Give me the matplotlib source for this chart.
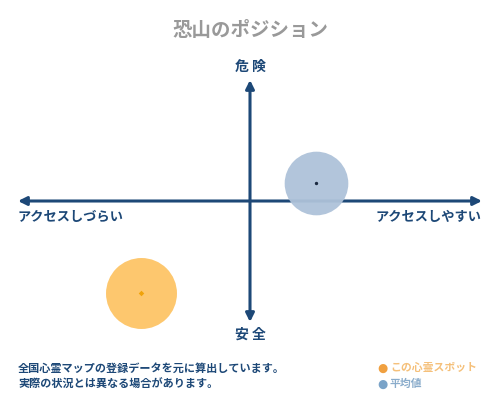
import matplotlib
matplotlib.use("Agg")
import matplotlib.pyplot as plt

plt.rcParams['font.family'] = ['Noto Sans CJK JP', 'DejaVu Sans']

title = "恐山のポジション"
y_top_label = "危 険"
y_bottom_label = "安 全"
x_left_label = "アクセスしづらい"
x_right_label = "アクセスしやすい"
notes = ["全国心霊マップの登録データを元に算出しています。", "実際の状況とは異なる場合があります。"]
legend_labels = ["この心霊スポット", "平均値"]

# positions in (-1..1) space: x = access, y = danger
spot_x = [-0.47]
spot_y = [-0.76]
avg_x = [0.285]
avg_y = [0.15]

navy = "#1d4877"
orange_fill = "#fdc76e"
orange_dot = "#f0a30a"
blue_fill = "#aec2d9"

fig = plt.figure(figsize=(5, 4), dpi=100)
ax = fig.add_axes([18/500, (400-322)/400, 464/500, 242/400])
ax.set_xlim(-1, 1)
ax.set_ylim(-1, 1)
ax.axis('off')

# axes arrows
arrow_kw = dict(arrowstyle='-|>,head_length=0.5,head_width=0.25', color=navy, lw=2.2, shrinkA=0, shrinkB=0)
ax.annotate('', xy=(1, 0), xytext=(0, 0), arrowprops=arrow_kw)
ax.annotate('', xy=(-1, 0), xytext=(0, 0), arrowprops=arrow_kw)
ax.annotate('', xy=(0, 1), xytext=(0, 0), arrowprops=arrow_kw)
ax.annotate('', xy=(0, -1), xytext=(0, 0), arrowprops=arrow_kw)

# bubbles
ax.scatter(avg_x, avg_y, s=2100, color=blue_fill, alpha=0.95, linewidths=0, zorder=3, clip_on=False)
ax.scatter(avg_x, avg_y, s=2, color="#1a2a40", zorder=4, clip_on=False)
ax.scatter(spot_x, spot_y, s=2611, color=orange_fill, linewidths=0, zorder=3, clip_on=False)
ax.scatter(spot_x, spot_y, s=8, marker='D', color=orange_dot, zorder=4, linewidths=0, clip_on=False)

# texts
fig.text(250/500, 1-30/400, title, ha='center', va='center', fontsize=14, color="#999999", fontweight='bold')
fig.text(250/500, 1-67/400, y_top_label, ha='center', va='center', fontsize=10, color=navy, fontweight='bold')
fig.text(250/500, 1-335/400, y_bottom_label, ha='center', va='center', fontsize=10, color=navy, fontweight='bold')
fig.text(18/500, 1-217/400, x_left_label, ha='left', va='center', fontsize=9.5, color=navy, fontweight='bold')
fig.text(482/500, 1-217/400, x_right_label, ha='right', va='center', fontsize=9.5, color=navy, fontweight='bold')
fig.text(18/500, 1-368/400, notes[0], ha='left', va='center', fontsize=8, color=navy, fontweight='bold')
fig.text(18/500, 1-384/400, notes[1], ha='left', va='center', fontsize=8, color=navy, fontweight='bold')

# legend
fig.text(377/500, 1-368/400, "●", ha='left', va='center', fontsize=8.5, color="#f0a040", family=['DejaVu Sans'])
fig.text(390/500, 1-368/400, legend_labels[0], ha='left', va='center', fontsize=7.8, color="#f5c07a", fontweight='bold')
fig.text(377/500, 1-384/400, "●", ha='left', va='center', fontsize=8.5, color="#7aa3c8", family=['DejaVu Sans'])
fig.text(390/500, 1-384/400, legend_labels[1], ha='left', va='center', fontsize=7.8, color="#8aaccb", fontweight='bold')

fig.savefig("out.png", dpi=100, facecolor='white')
